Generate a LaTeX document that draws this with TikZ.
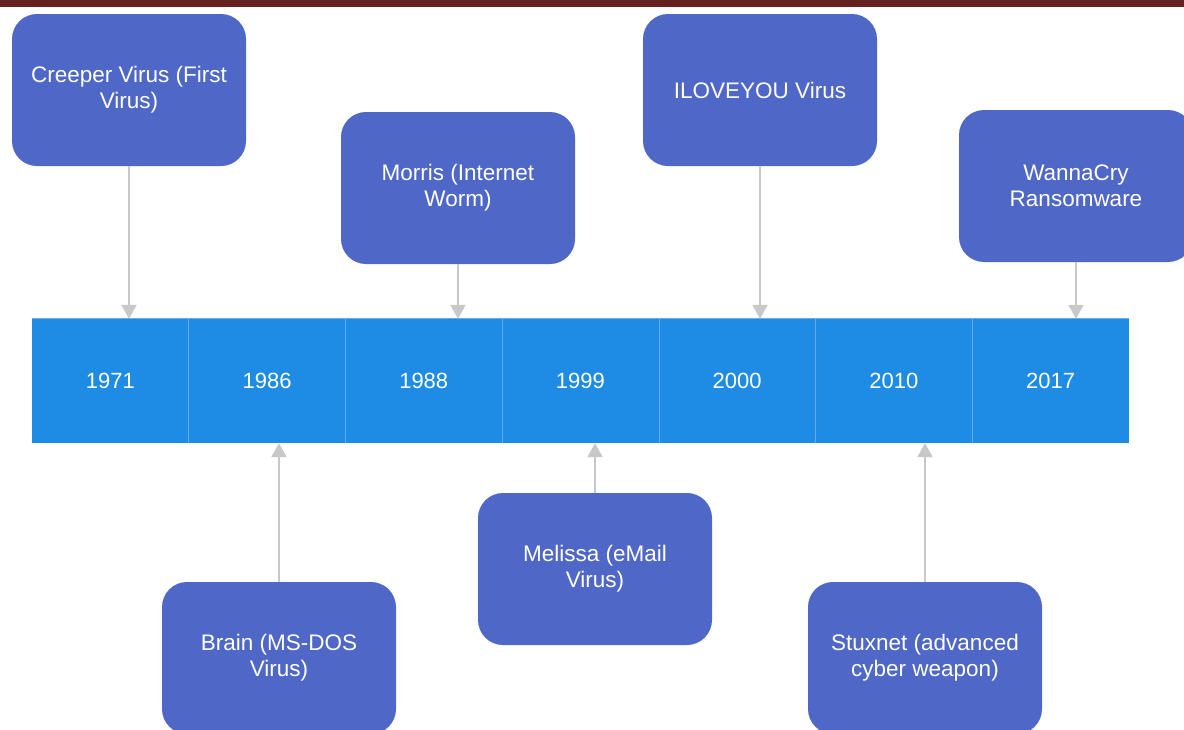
\documentclass[tikz,border=0pt]{standalone}
\usepackage{fontspec}
\setmainfont{Liberation Sans}
\usetikzlibrary{arrows.meta}
\definecolor{topbar}{HTML}{65201F}
\definecolor{evbox}{HTML}{4F67C6}
\definecolor{yearfill}{HTML}{1E8CE4}
\definecolor{yearline}{HTML}{62AEEC}
\definecolor{conn}{HTML}{C8C8C8}
\tikzset{
  event/.style={rectangle, rounded corners=25pt, fill=evbox, draw=none,
    minimum width=234pt, minimum height=152pt, text=white, align=center,
    font=\fontsize{22.5}{26}\selectfont},
  yearcell/.style={rectangle, fill=yearfill, draw=none, minimum width=156.7pt,
    minimum height=124pt, inner sep=0pt, text=white,
    font=\fontsize{22}{26}\selectfont},
  conn/.style={draw=conn, line width=2pt,
    -{Triangle[width=15pt,length=14pt]}}
}
\begin{document}
\begin{tikzpicture}[x=1pt,y=-1pt]
  \useasboundingbox (0,0) rectangle (1184,729);
  \clip (0,0) rectangle (1184,729);
  \fill[white] (0,0) rectangle (1184,729);
  \fill[topbar] (0,0) rectangle (1184,7);

  % timeline cells
  \foreach \yr [count=\i] in {1971,1986,1988,1999,2000,2010,2017} {
    \node[yearcell] (y\i) at ({32+156.7*(\i-0.5)},381) {\yr};
  }
  \node[inner sep=0pt, minimum width=1097pt, minimum height=124pt] (bar) at (580.5,381) {};
  \draw[yearline, line width=1pt] (bar.north west) -- (bar.north east);
  \foreach \i in {1,...,6} {
    \draw[yearline, line width=1pt] (y\i.north east) -- (y\i.south east);
  }

  % events above the line
  \node[event] (creeper) at (129,90) {Creeper Virus (First\\Virus)};
  \node[event] (morris) at (458,188) {Morris (Internet\\Worm)};
  \node[event] (iloveyou) at (760,90) {ILOVEYOU Virus};
  \node[event] (wannacry) at (1076,186) {WannaCry\\Ransomware};

  % events below the line
  \node[event] (brain) at (279,658) {Brain (MS-DOS\\Virus)};
  \node[event] (melissa) at (595,569) {Melissa (eMail\\Virus)};
  \node[event] (stuxnet) at (925,658) {Stuxnet (advanced\\cyber weapon)};

  % connectors
  \draw[conn] (creeper.south) -- (creeper.south |- bar.north);
  \draw[conn] (morris.south) -- (morris.south |- bar.north);
  \draw[conn] (iloveyou.south) -- (iloveyou.south |- bar.north);
  \draw[conn] (wannacry.south) -- (wannacry.south |- bar.north);
  \draw[conn] (brain.north) -- (brain.north |- bar.south);
  \draw[conn] (melissa.north) -- (melissa.north |- bar.south);
  \draw[conn] (stuxnet.north) -- (stuxnet.north |- bar.south);
\end{tikzpicture}
\end{document}
